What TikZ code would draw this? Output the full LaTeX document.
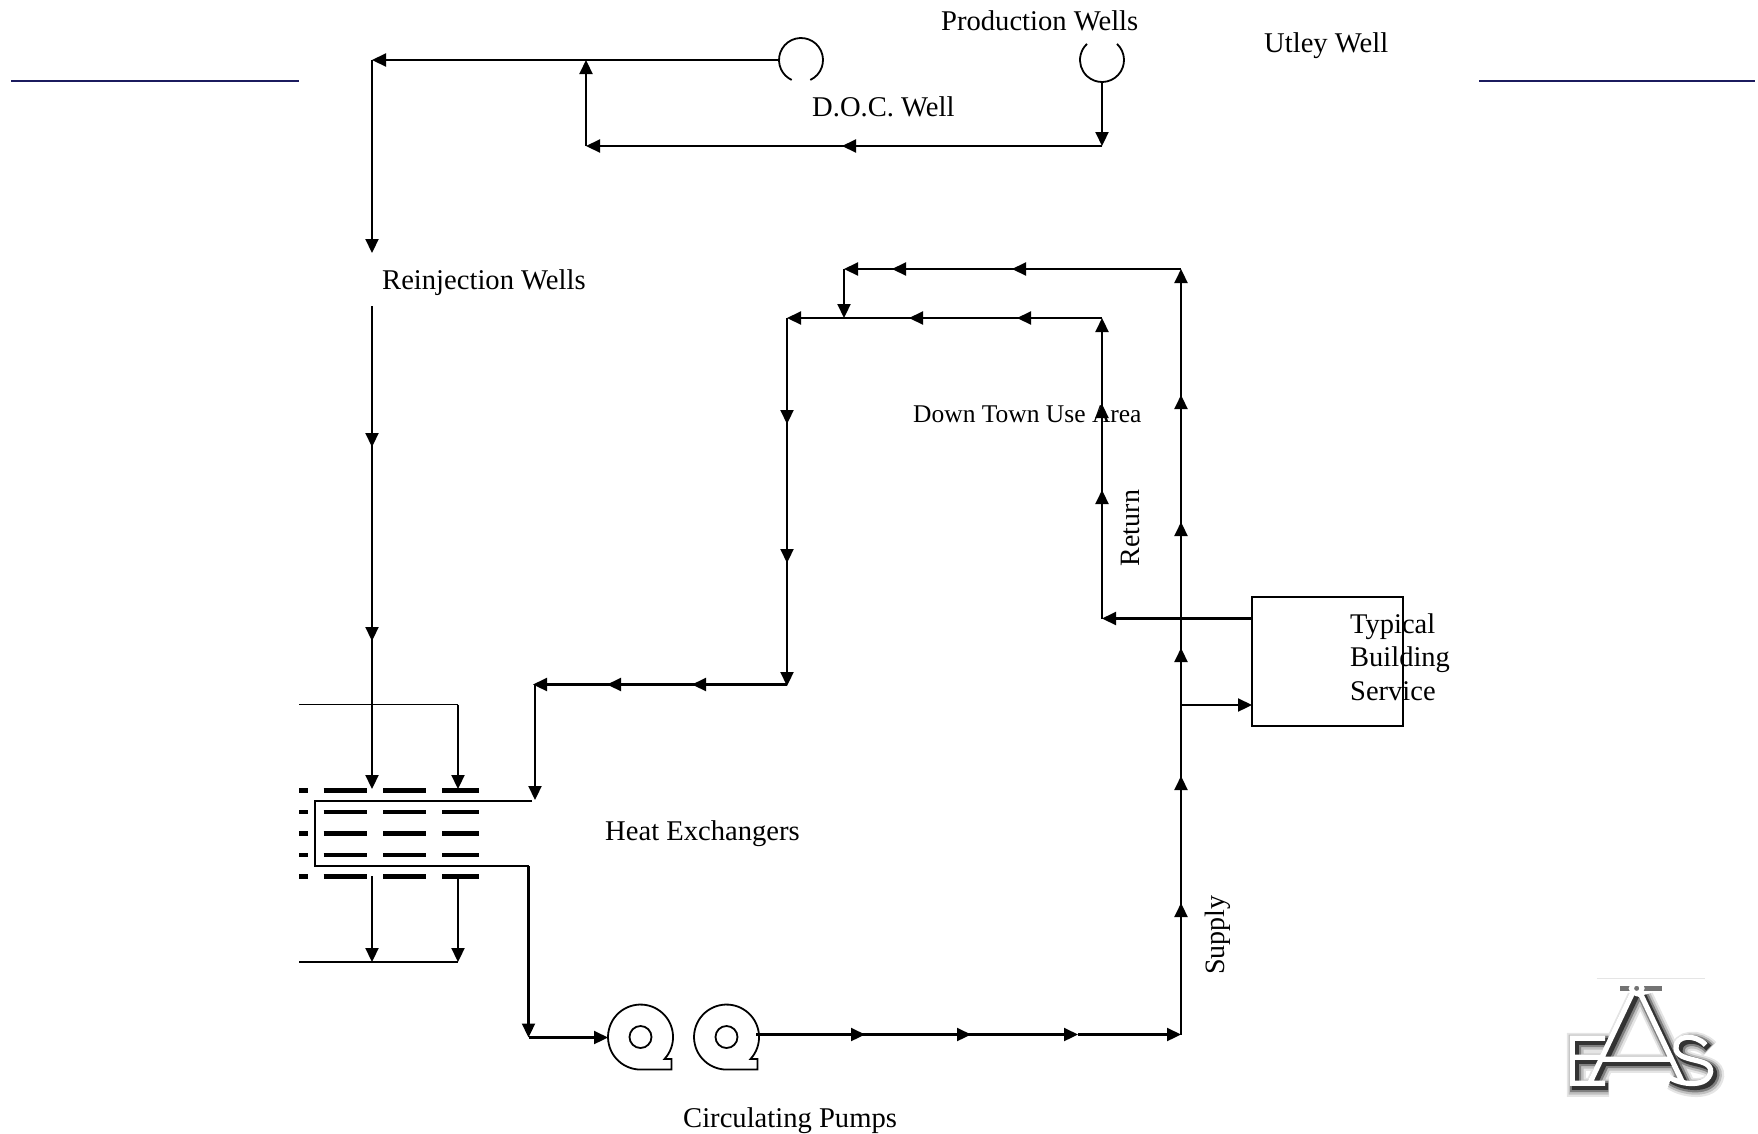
\documentclass[tikz,border=0pt]{standalone}
\usepackage{fontspec}
\setmainfont{Liberation Serif}
\usetikzlibrary{arrows.meta}
\definecolor{rule}{HTML}{1B1B5E}
\tikzset{
	pipe/.style={line width=2.2pt, -{Triangle[length=14pt, width=13pt]}},
	thin line/.style={line width=1.8pt},
	bar/.style={line width=4.4pt},
	label/.style={anchor=west, inner sep=0pt, font=\fontsize{28.6}{34}\selectfont},
	small label/.style={anchor=west, inner sep=0pt, font=\fontsize{25.5}{32}\selectfont},
	side label/.style={rotate=90, inner sep=0pt, font=\fontsize{28}{30}\selectfont}
}
\begin{document}
\begin{tikzpicture}[x=1pt, y=-1pt]
	\useasboundingbox (0,0) rectangle (1758,1133);
	% labels
	\node[label] (production) at (941,21) {Production Wells};
	\node[label] (utley) at (1264,46) {Utley Well};
	\node[label] (doc) at (812,107) {D.O.C. Well};
	\node[label] (reinjection) at (382,283) {Reinjection Wells};
	\node[small label] (downtown) at (913,414) {Down Town Use Area};
	\node[label] (exchangers) at (605,834) {Heat Exchangers};
	\node[label] (pumps) at (683,1121) {Circulating Pumps};
	\node[side label] (return) at (1130,528) {Return};
	\node[side label] (supply) at (1218,935) {Supply};
	% side rules
	\coordinate (ruleA) at (11,81);
	\coordinate (ruleB) at (299,81);
	\coordinate (ruleC) at (1479,81);
	\coordinate (ruleD) at (1755,81);
	\draw[rule, line width=2.6pt] (ruleA) -- (ruleB);
	\draw[rule, line width=2.6pt] (ruleC) -- (ruleD);
	% wells
	\draw[thin line] (801,60) ++(65:22) arc[start angle=65, end angle=-245, radius=22];
	\draw[thin line] (1102,60) ++(-47:22) arc[start angle=-47, end angle=227, radius=22];
	\coordinate (docwell) at (779,60);
	\coordinate (prodwell) at (1102,82);
	% building
	\node[draw, thin line, minimum width=151pt, minimum height=129pt, inner sep=0pt] (building) at (1327.5,661.5) {};
	\node[label, align=left, font=\fontsize{28.5}{33.5}\selectfont] (service) at (1350,657) {Typical\\Building\\Service};
	% well piping
	\coordinate (west) at (372,60);
	\coordinate (reinA) at (372,253);
	\coordinate (joinA) at (586,60);
	\coordinate (joinB) at (586,146);
	\coordinate (prodB) at (1102,146);
	\coordinate (prodC) at (842,146);
	\draw[pipe] (docwell) -- (west);
	\draw[pipe] (west) -- (reinA);
	\draw[pipe] (joinB) -- (joinA);
	\draw[pipe] (prodwell) -- (prodB);
	\foreach \tip in {prodC, joinB}
		\draw[pipe] (prodB) -- (\tip);
	% reinjection
	\coordinate (reinB) at (372,306);
	\foreach \y [count = \n] in {447, 641, 789}{
		\coordinate (rein\n) at (372,\y);
		\draw[pipe] (reinB) -- (rein\n);
	}
	% heat exchanger
	\foreach \y in {790.5, 812, 833.5, 855, 876.5}{
		\foreach \a/\b in {299/307.7, 323.7/366.7, 383/425.7, 442/479.3}
			\draw[bar] (\a,\y) -- (\b,\y);
	}
	\coordinate (topIn) at (299,704.5);
	\coordinate (topOut) at (458,704.5);
	\coordinate (topTip) at (458,789);
	\draw[thin line] (topIn) -- (topOut);
	\draw[pipe] (topOut) -- (topTip);
	\coordinate (coilA) at (532,801);
	\coordinate (coilB) at (315,801);
	\coordinate (coilC) at (315,866);
	\coordinate (coilD) at (528.5,866);
	\draw[thin line] (coilA) -- (coilB) -- (coilC) -- (coilD);
	\foreach \x [count = \n] in {372, 458}{
		\coordinate (lowA\n) at (\x,876);
		\coordinate (lowB\n) at (\x,962);
		\draw[pipe] (lowA\n) -- (lowB\n);
	}
	\coordinate (lowIn) at (299,962);
	\draw[thin line] (lowIn) -- (lowB2);
	% pumps
	\foreach \cx [count = \n] in {640.5, 726.5}{
		\node[circle, draw, thin line, minimum size=22pt, inner sep=0pt] (eye\n) at (\cx,1037) {};
		\draw[thin line] (\cx+24,1059) arc[start angle=42.5, end angle=-270, radius=32.5]
			-- ++(31,0) -- ++(0,-10.5) -- cycle;
	}
	\coordinate (coilE) at (528.5,1037.5);
	\coordinate (pumpIn) at (608,1037.5);
	\draw[pipe] (coilD) -- (coilE);
	\draw[pipe] (coilE) -- (pumpIn);
	% supply
	\coordinate (pumpOut) at (756,1034.5);
	\coordinate (corner) at (1181,1034.5);
	\foreach \x [count = \n] in {865, 971, 1078}{
		\coordinate (out\n) at (\x,1034.5);
		\draw[pipe] (pumpOut) -- (out\n);
	}
	\draw[pipe] (out3) -- (corner);
	\coordinate (riser) at (1181,1034.5);
	\foreach \y [count = \n] in {903, 776, 648, 522, 395, 269}{
		\coordinate (sup\n) at (1181,\y);
		\draw[pipe] (riser) -- (sup\n);
	}
	\foreach \x [count = \n] in {1012, 892, 844}{
		\coordinate (upper\n) at (\x,269);
		\draw[pipe] (sup6) -- (upper\n);
	}
	\coordinate (upperEnd) at (844,318);
	\draw[pipe] (upper3) -- (upperEnd);
	% building tap and return
	\coordinate (tapA) at (1181,705);
	\coordinate (tapB) at (1252,705);
	\draw[pipe] (tapA) -- (tapB);
	\coordinate (backA) at (1252,618.5);
	\coordinate (backB) at (1102,618.5);
	\draw[pipe] (backA) -- (backB);
	\foreach \y [count = \n] in {490, 404, 318}{
		\coordinate (ret\n) at (1102,\y);
		\draw[pipe] (backB) -- (ret\n);
	}
	\foreach \x [count = \n] in {1017, 909, 787}{
		\coordinate (lower\n) at (\x,318);
		\draw[pipe] (ret3) -- (lower\n);
	}
	\foreach \y [count = \n] in {424, 563, 686}{
		\coordinate (down\n) at (787,\y);
		\draw[pipe] (lower3) -- (down\n);
	}
	\coordinate (downEnd) at (787,684.5);
	\foreach \x [count = \n] in {692, 607, 533}{
		\coordinate (back\n) at (\x,684.5);
		\draw[pipe] (downEnd) -- (back\n);
	}
	\coordinate (backEnd) at (535,684.5);
	\coordinate (coilTip) at (535,800);
	\draw[pipe] (backEnd) -- (coilTip);
	% logo
	\begin{scope}[shift={(1540,960)}, x=.3333pt, y=-.3333pt]
		\draw[black!10, line width=.7pt] (170,55) -- (495,55);
		\draw[black!55, line width=5.5pt] (240,85) -- (365,85);
		\foreach \shade/\wide/\off in {black!10/19/12, black!25/15/11, black!50/11/10, black!80/7/9, white/5.2/0}{
			\draw[color=\shade, line width=\wide pt, shift={(\off,\off)}, line join=miter]
				(195,235) -- (97,235) -- (97,370) -- (195,370)
				(105,292) -- (190,292)
				(150,368) -- (278,98) (300,98) -- (428,368)
				(178,298) -- (398,298)
				(497,255) .. controls (465,220) and (405,225) .. (408,265)
				.. controls (412,310) and (515,290) .. (512,335)
				.. controls (505,385) and (420,375) .. (385,350);
		}
		\draw[white, line width=5pt] (290,85) circle[radius=16];
	\end{scope}
\end{tikzpicture}
\end{document}
